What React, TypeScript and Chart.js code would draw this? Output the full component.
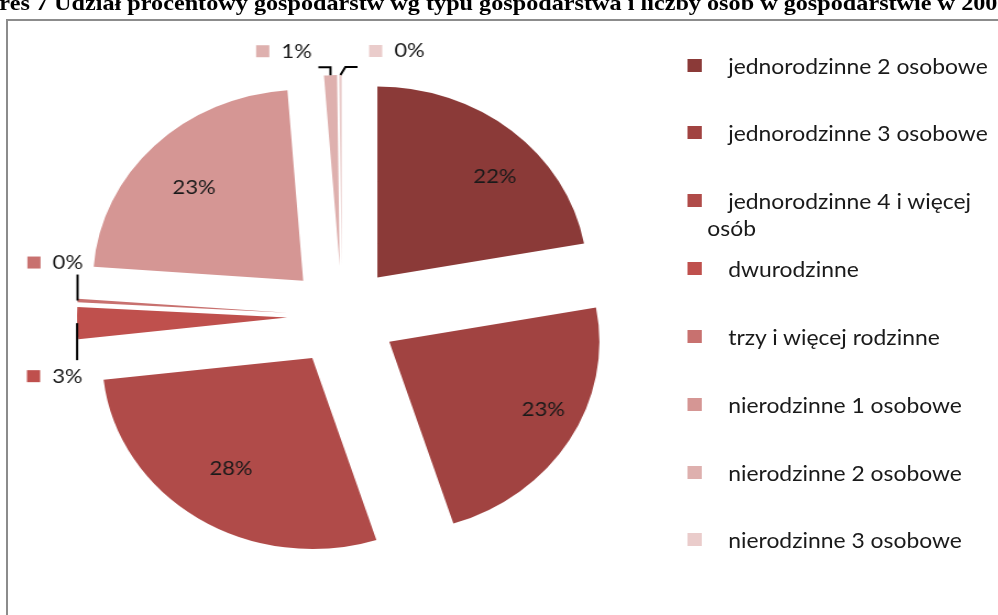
import React, { useEffect, useRef } from "react";
import { Chart, registerables } from "chart.js";

Chart.register(...registerables);

const TITLE =
  "Wykres 7 Udział procentowy gospodarstw wg typu gospodarstwa i liczby osób w gospodarstwie w 2002 r.";

const CATEGORIES = [
  "jednorodzinne 2 osobowe",
  "jednorodzinne 3 osobowe",
  "jednorodzinne 4 i więcej osób",
  "dwurodzinne",
  "trzy i więcej rodzinne",
  "nierodzinne 1 osobowe",
  "nierodzinne 2 osobowe",
  "nierodzinne 3 osobowe",
];

const SHARES = [22.2, 23.0, 28.2, 2.7, 0.3, 22.7, 1.0, 0.2];

const COLORS = [
  "#8B3A38",
  "#A14341",
  "#B04B49",
  "#BF504D",
  "#C8716F",
  "#D59694",
  "#DEB0AE",
  "#EACCCB",
];

const STRETCH = 1.1;
const FONT = "Lato, 'Open Sans', sans-serif";
const EXPLODE = 50;
const RADIUS = 191;
const TEXT_COLOR = "#1a1a1a";

const total = () => SHARES.reduce((a, b) => a + b, 0);
const pctText = (i: number) => Math.round((SHARES[i] / total()) * 100) + "%";

const explodePlugin = {
  id: "explode",
  afterDatasetUpdate(chart: any, args: any) {
    const meta = chart.getDatasetMeta(args.index);
    meta.data.forEach((arc: any) => {
      const mid = (arc.startAngle + arc.endAngle) / 2;
      arc.x += Math.cos(mid) * EXPLODE;
      arc.y += Math.sin(mid) * EXPLODE;
    });
  },
};

const labelPlugin = {
  id: "sliceLabels",
  afterDatasetsDraw(chart: any) {
    const ctx = chart.ctx as CanvasRenderingContext2D;
    const meta = chart.getDatasetMeta(0);
    const sum = total();
    ctx.save();
    ctx.font = `20px ${FONT}`;
    ctx.fillStyle = TEXT_COLOR;
    ctx.textBaseline = "middle";
    const topItems: any[] = [];
    const leftItems: any[] = [];
    meta.data.forEach((arc: any, i: number) => {
      const share = SHARES[i] / sum;
      const mid = (arc.startAngle + arc.endAngle) / 2;
      const dx = Math.cos(mid);
      const dy = Math.sin(mid);
      const r = arc.outerRadius;
      if (share >= 0.05) {
        ctx.textAlign = "center";
        ctx.fillStyle = TEXT_COLOR;
        ctx.fillText(pctText(i), arc.x + dx * r * 0.8 + 9, arc.y + dy * r * 0.69);
      } else {
        const item = { i, ox: arc.x + dx * r, oy: arc.y + dy * r };
        if (Math.abs(dy) > Math.abs(dx)) topItems.push(item);
        else leftItems.push(item);
      }
    });

    const key = 12;
    const drawKeyText = (i: number, keyLeft: number, cy: number) => {
      ctx.fillStyle = COLORS[i];
      ctx.fillRect(keyLeft, cy - key / 2, key, key);
      ctx.fillStyle = TEXT_COLOR;
      ctx.textAlign = "left";
      ctx.fillText(pctText(i), keyLeft + key + 11, cy);
    };
    const line = (pts: number[][]) => {
      ctx.beginPath();
      ctx.moveTo(pts[0][0], pts[0][1]);
      for (let k = 1; k < pts.length; k++) ctx.lineTo(pts[k][0], pts[k][1]);
      ctx.strokeStyle = "#000";
      ctx.lineWidth = 2;
      ctx.stroke();
    };

    topItems.sort((a, b) => a.ox - b.ox);
    topItems.forEach((it, k) => {
      const y1 = it.oy - 8;
      if (k === 0) {
        const ex = it.ox - 11;
        line([[it.ox, it.oy], [it.ox, y1], [ex, y1]]);
        const tw = ctx.measureText(pctText(it.i)).width;
        const textRight = ex - 6;
        drawKeyText(it.i, textRight - tw - 11 - key, y1 - 16);
      } else {
        const ex = it.ox + 15.5;
        line([[it.ox, it.oy], [it.ox + 4.5, y1], [ex, y1]]);
        drawKeyText(it.i, ex + 10.5, y1 - 16);
      }
    });

    leftItems.sort((a, b) => a.oy - b.oy);
    leftItems.forEach((it, k) => {
      const tw = ctx.measureText(pctText(it.i)).width;
      const textRight = it.ox + 5;
      const keyLeft = textRight - tw - 11 - key;
      if (k === 0) {
        const y1 = it.oy - 26;
        line([[it.ox, it.oy], [it.ox, y1]]);
        drawKeyText(it.i, keyLeft, y1 - 12);
      } else {
        const y1 = it.oy + 37;
        line([[it.ox, it.oy], [it.ox, y1]]);
        drawKeyText(it.i, keyLeft, y1 + 16);
      }
    });
    ctx.restore();
  },
};

export default function App() {
  const ref = useRef<HTMLCanvasElement>(null);
  useEffect(() => {
    if (!ref.current) return;
    const chart = new Chart(ref.current, {
      type: "pie",
      data: {
        labels: CATEGORIES,
        datasets: [
          {
            data: SHARES,
            backgroundColor: COLORS,
            borderWidth: 0,
            radius: RADIUS,
          } as any,
        ],
      },
      options: {
        animation: false,
        responsive: false,
        events: [],
        radius: RADIUS,
        layout: { padding: 0 },
        plugins: {
          legend: { display: false },
          tooltip: { enabled: false },
          title: { display: false },
        },
      } as any,
      plugins: [explodePlugin, labelPlugin],
    });
    return () => chart.destroy();
  }, []);

  const rowStep = 67.85;
  return (
    <div
      style={{
        position: "absolute",
        left: 0,
        top: 0,
        width: 998,
        height: 615,
        overflow: "hidden",
        background: "#fff",
      }}
    >
      <div
        style={{
          position: "absolute",
          left: 6,
          top: 19,
          width: 2000,
          height: 2000,
          borderLeft: "2px solid #8c8c8c",
          borderTop: "2px solid #8c8c8c",
        }}
      />
      <div
        style={{
          position: "absolute",
          left: 0,
          top: 0,
          width: 998 / STRETCH,
          height: 615,
          transform: `scaleX(${STRETCH})`,
          transformOrigin: "0 0",
        }}
      >
        <div
          style={{
            position: "absolute",
            left: -45,
            top: -8.4,
            font: "bold 22px 'Liberation Serif', serif",
            lineHeight: "22px",
            whiteSpace: "nowrap",
            color: "#000",
          }}
        >
          {TITLE}
        </div>
        <canvas
          ref={ref}
          width={600}
          height={600}
          style={{ position: "absolute", left: 10.9, top: 16, width: 600, height: 600 }}
        />
        {CATEGORIES.map((c, i) => {
          const cy = 65 + rowStep * i;
          return (
            <React.Fragment key={i}>
              <div
                style={{
                  position: "absolute",
                  left: 624.5,
                  top: cy - 6.5,
                  width: 13,
                  height: 13,
                  background: COLORS[i],
                }}
              />
              <div
                style={{
                  position: "absolute",
                  left: 643,
                  top: cy - 13.5,
                  width: 269,
                  textIndent: 19,
                  font: `20.8px ${FONT}`,
                  lineHeight: "27px",
                  color: TEXT_COLOR,
                }}
              >
                {c}
              </div>
            </React.Fragment>
          );
        })}
      </div>
    </div>
  );
}
